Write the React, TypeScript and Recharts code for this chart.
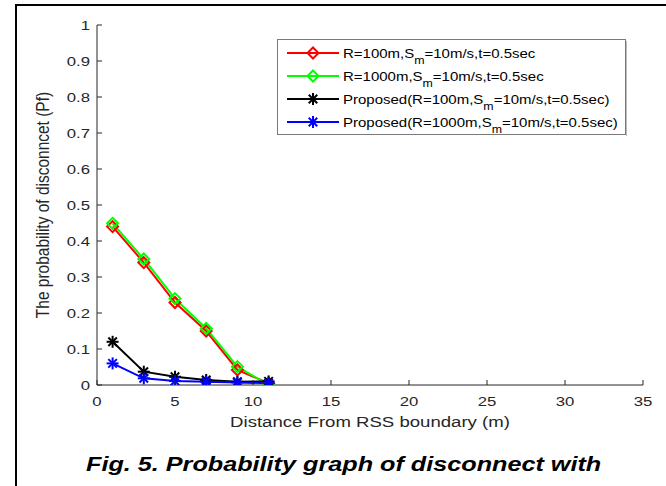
import React from 'react';
import { LineChart, Line, XAxis, YAxis } from 'recharts';

const distance = [1, 3, 5, 7, 9, 11];
const r100 = [0.44, 0.34, 0.229, 0.15, 0.042, 0.005];
const r1000 = [0.449, 0.35, 0.24, 0.157, 0.051, 0];
const proposed100 = [0.12, 0.037, 0.023, 0.014, 0.009, 0.01];
const proposed1000 = [0.06, 0.0185, 0.011, 0.009, 0.007, 0.005];

const xTicks = [0, 5, 10, 15, 20, 25, 30, 35];
const yTicks = [0, 0.1, 0.2, 0.3, 0.4, 0.5, 0.6, 0.7, 0.8, 0.9, 1];

const seriesNames = [
  { pre: 'R=100m,S', post: '=10m/s,t=0.5sec', color: '#ff0000', marker: 'diamond' },
  { pre: 'R=1000m,S', post: '=10m/s,t=0.5sec', color: '#00ff00', marker: 'diamond' },
  { pre: 'Proposed(R=100m,S', post: '=10m/s,t=0.5sec)', color: '#000000', marker: 'star' },
  { pre: 'Proposed(R=1000m,S', post: '=10m/s,t=0.5sec)', color: '#0000ff', marker: 'star' },
];

const data = distance.map((d, i) => ({
  d,
  r100: r100[i],
  r1000: r1000[i],
  p100: proposed100[i],
  p1000: proposed1000[i],
}));

const FONT = '"Liberation Sans", Arial, Helvetica, sans-serif';
const AXIS = '#262626';
// the source picture is stretched sideways, so horizontal text is widened
const SX = 1.24;

const SText = ({ x, y, anchor = 'start', size, children, fill = AXIS, rotate = 0 }: any) => (
  <text
    transform={`translate(${x} ${y}) scale(${SX} 1) rotate(${rotate})`}
    textAnchor={anchor}
    fontSize={size}
    fontFamily={FONT}
    fill={fill}
  >
    {children}
  </text>
);

const Marker = ({ cx, cy, color, kind }: { cx: number; cy: number; color: string; kind: string }) => {
  if (kind === 'diamond') {
    const r = 5.5;
    return (
      <polygon
        points={`${cx},${cy - r} ${cx + r},${cy} ${cx},${cy + r} ${cx - r},${cy}`}
        fill="none"
        stroke={color}
        strokeWidth={2}
      />
    );
  }
  const r = 6;
  const d = r * 0.707;
  return (
    <g stroke={color} strokeWidth={2}>
      <line x1={cx - r} y1={cy} x2={cx + r} y2={cy} />
      <line x1={cx} y1={cy - r} x2={cx} y2={cy + r} />
      <line x1={cx - d} y1={cy - d} x2={cx + d} y2={cy + d} />
      <line x1={cx - d} y1={cy + d} x2={cx + d} y2={cy - d} />
    </g>
  );
};

const makeDot = (color: string, kind: string) => (props: any) => (
  <g key={`${kind}-${color}-${props.index}`}>
    <Marker cx={props.cx} cy={props.cy} color={color} kind={kind} />
  </g>
);

const BottomTick = (props: any) => {
  const { x, y, payload } = props;
  return (
    <g>
      <line x1={x} y1={y} x2={x} y2={y - 5} stroke={AXIS} />
      <SText x={x} y={y + 21} anchor="middle" size={13.5}>
        {payload.value}
      </SText>
    </g>
  );
};

const LeftTick = (props: any) => {
  const { x, y, payload } = props;
  return (
    <g>
      <line x1={x} y1={y} x2={x + 5} y2={y} stroke={AXIS} />
      <SText x={x - 7} y={y + 5} anchor="end" size={13.5}>
        {payload.value}
      </SText>
    </g>
  );
};

const TopTick = (props: any) => {
  const { x, y } = props;
  return <line x1={x} y1={y} x2={x} y2={y + 5} stroke={AXIS} />;
};

const RightTick = (props: any) => {
  const { x, y } = props;
  return <line x1={x} y1={y} x2={x - 5} y2={y} stroke={AXIS} />;
};

const Legend = () => (
  <svg
    width={350}
    height={97}
    style={{ position: 'absolute', left: 277, top: 39, overflow: 'visible' }}
  >
    <rect x={0.5} y={0.5} width={348} height={95} fill="#fff" stroke="#7a7a7a" strokeWidth={1} />
    <line x1={349.5} y1={2} x2={349.5} y2={97} stroke="#bbb" strokeWidth={1} />
    {seriesNames.map((s, i) => {
      const cy = 14 + i * 23;
      return (
        <g key={i}>
          <line x1={10} y1={cy} x2={62} y2={cy} stroke={s.color} strokeWidth={2} />
          <Marker cx={36} cy={cy} color={s.color} kind={s.marker} />
          <SText x={66} y={cy + 5} size={12.1} fill="#000">
            {s.pre}
            <tspan dy={6} fontSize={10}>m</tspan>
            <tspan dy={-6}>{s.post}</tspan>
          </SText>
        </g>
      );
    })}
  </svg>
);

export default function App() {
  return (
    <div
      style={{
        position: 'absolute',
        left: 0,
        top: 0,
        width: 666,
        height: 486,
        overflow: 'hidden',
        background: '#fff',
      }}
    >
      <div
        style={{
          position: 'absolute',
          left: 15,
          top: 4,
          width: 700,
          height: 600,
          border: '2px solid #000',
          boxSizing: 'border-box',
        }}
      />
      <div style={{ position: 'absolute', left: 0, top: 0 }}>
        <LineChart width={666} height={486} data={data} margin={{ top: 25, right: 23, bottom: 71, left: 0 }}>
          <XAxis
            dataKey="d"
            type="number"
            domain={[0, 35]}
            ticks={xTicks}
            allowDataOverflow
            height={30}
            stroke={AXIS}
            tickSize={0}
            tickMargin={0}
            tick={<BottomTick />}
            interval={0}
            label={{
              content: (p: any) => {
                const vb = p.viewBox;
                return (
                  <SText x={vb.x + vb.width / 2} y={vb.y + 42} anchor="middle" size={15}>
                    Distance From RSS boundary (m)
                  </SText>
                );
              },
            }}
          />
          <XAxis
            xAxisId="top"
            orientation="top"
            dataKey="d"
            type="number"
            domain={[0, 35]}
            ticks={xTicks}
            allowDataOverflow
            height={0}
            stroke={AXIS}
            tickSize={0}
            tickMargin={0}
            tick={<TopTick />}
            interval={0}
          />
          <YAxis
            type="number"
            domain={[0, 1]}
            ticks={yTicks}
            allowDataOverflow
            width={97}
            stroke={AXIS}
            tickSize={0}
            tickMargin={0}
            tick={<LeftTick />}
            interval={0}
            label={{
              content: (p: any) => {
                const vb = p.viewBox;
                return (
                  <SText x={vb.x + 49} y={vb.y + vb.height / 2} anchor="middle" size={15.5} rotate={-90}>
                    The probability of disconncet (Pf)
                  </SText>
                );
              },
            }}
          />
          <YAxis
            yAxisId="right"
            orientation="right"
            type="number"
            domain={[0, 1]}
            ticks={yTicks}
            allowDataOverflow
            width={0}
            stroke={AXIS}
            tickSize={0}
            tickMargin={0}
            tick={<RightTick />}
            interval={0}
          />
          <Line
            xAxisId="top"
            yAxisId="right"
            dataKey="r100"
            stroke="none"
            dot={false}
            activeDot={false}
            isAnimationActive={false}
          />
          <Line dataKey="r100" stroke="#ff0000" strokeWidth={2} dot={makeDot('#ff0000', 'diamond')} activeDot={false} isAnimationActive={false} />
          <Line dataKey="r1000" stroke="#00ff00" strokeWidth={2} dot={makeDot('#00ff00', 'diamond')} activeDot={false} isAnimationActive={false} />
          <Line dataKey="p100" stroke="#000000" strokeWidth={2} dot={makeDot('#000000', 'star')} activeDot={false} isAnimationActive={false} />
          <Line dataKey="p1000" stroke="#0000ff" strokeWidth={2} dot={makeDot('#0000ff', 'star')} activeDot={false} isAnimationActive={false} />
        </LineChart>
      </div>
      <Legend />
      <div
        style={{
          position: 'absolute',
          left: 86,
          top: 449,
          fontFamily: FONT,
          fontWeight: 'bold',
          fontStyle: 'italic',
          fontSize: 21,
          color: '#000',
          whiteSpace: 'nowrap',
          lineHeight: '30px',
          transform: `scaleX(${SX - 0.04})`,
          transformOrigin: 'left top',
        }}
      >
        Fig. 5. Probability graph of disconnect with
      </div>
    </div>
  );
}
